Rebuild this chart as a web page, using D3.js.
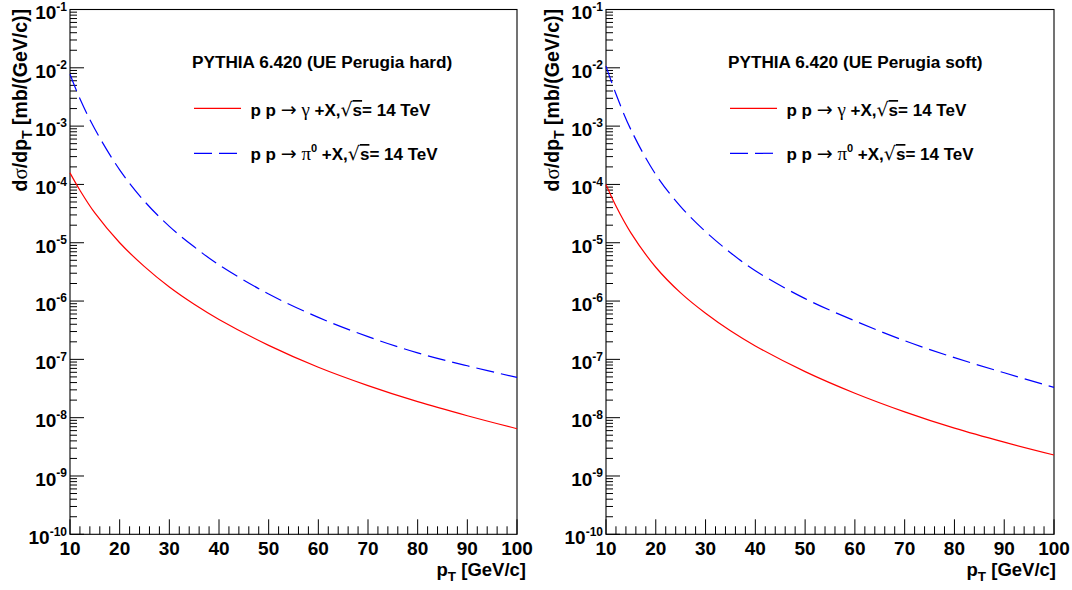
<!DOCTYPE html>
<html><head><meta charset="utf-8">
<script src="https://cdn.jsdelivr.net/npm/d3@7"></script>
<style>
html,body{margin:0;padding:0;background:#fff;}
svg{display:block;font-family:"Liberation Sans",Arial,sans-serif;}
</style></head>
<body>
<svg id="c" width="1072" height="590"></svg>
<script>
// ---- data ----
const pT = [10, 12, 15, 20, 25, 30, 35, 40, 50, 60, 70, 80, 90, 100];
const hardGamma = [1.58e-4, 7.94e-5, 3.24e-5, 1.00e-5, 3.89e-6, 1.74e-6, 8.81e-7, 4.84e-7, 1.74e-7, 7.33e-8, 3.55e-8, 1.88e-8, 1.08e-8, 6.46e-9];
const hardPi0   = [7.76e-3, 2.95e-3, 8.91e-4, 1.78e-4, 5.13e-5, 1.91e-5, 8.51e-6, 4.17e-6, 1.32e-6, 5.25e-7, 2.45e-7, 1.29e-7, 7.76e-8, 4.90e-8];
const softGamma = [1.00e-4, 4.27e-5, 1.48e-5, 3.80e-6, 1.38e-6, 6.17e-7, 3.09e-7, 1.70e-7, 6.17e-8, 2.63e-8, 1.26e-8, 6.61e-9, 3.80e-9, 2.29e-9];
const softPi0   = [1.07e-2, 3.55e-3, 8.71e-4, 1.48e-4, 4.17e-5, 1.55e-5, 6.76e-6, 3.31e-6, 1.10e-6, 4.57e-7, 2.09e-7, 1.07e-7, 5.89e-8, 3.31e-8];
const xTickLabels = [10, 20, 30, 40, 50, 60, 70, 80, 90, 100];
const yDecades = [-1, -2, -3, -4, -5, -6, -7, -8, -9, -10];
const panelTitles = ["PYTHIA 6.420 (UE Perugia hard)", "PYTHIA 6.420 (UE Perugia soft)"];

const svg = d3.select("#c");
const yTop = 9.5, yBottom = 534.3;
const panels = [
  {x0: 70, x1: 517, ytOff: 43, xtEnd: 526, title: panelTitles[0], gamma: hardGamma, pi0: hardPi0},
  {x0: 606, x1: 1054, ytOff: 47, xtEnd: 1056, title: panelTitles[1], gamma: softGamma, pi0: softPi0}
];
const SYM = "'DejaVu Sans', sans-serif";
const GREEK = "'Liberation Serif', 'DejaVu Serif', serif";

panels.forEach(p => {
  const g = svg.append("g");
  const x = d3.scaleLinear().domain([10, 100]).range([p.x0, p.x1]);
  const y = d3.scaleLog().domain([1e-10, 1e-1]).range([yBottom, yTop]);

  // frame
  g.append("rect").attr("x", p.x0).attr("y", yTop).attr("width", p.x1 - p.x0).attr("height", yBottom - yTop)
    .attr("fill", "none").attr("stroke", "#000").attr("stroke-width", 1.1);

  // x ticks
  for (let v = 10; v <= 100; v += 2) {
    const major = v % 10 === 0;
    g.append("line").attr("x1", x(v)).attr("x2", x(v)).attr("y1", yBottom).attr("y2", yBottom - (major ? 15 : 8))
      .attr("stroke", "#000").attr("stroke-width", 1);
  }
  xTickLabels.forEach(v => {
    g.append("text").attr("x", x(v)).attr("y", 555).attr("text-anchor", "middle")
      .attr("font-size", 19).attr("font-weight", "bold").text(v);
  });

  // y ticks
  for (let e = -10; e < -1; e++) {
    for (let m = 1; m <= 9; m++) {
      const v = m * Math.pow(10, e);
      g.append("line").attr("x1", p.x0).attr("x2", p.x0 + (m === 1 ? 14 : 7)).attr("y1", y(v)).attr("y2", y(v))
        .attr("stroke", "#000").attr("stroke-width", 1);
    }
  }
  yDecades.forEach(e => {
    const t = g.append("text").attr("x", p.x0 - 3).attr("y", y(Math.pow(10, e)) + 9.8)
      .attr("text-anchor", "end").attr("font-size", 19).attr("font-weight", "bold");
    t.append("tspan").text("10");
    t.append("tspan").attr("font-size", 12).attr("dy", -8.5).text(String(e));
  });

  // axis titles
  const xt = g.append("text").attr("x", p.xtEnd).attr("y", 576).attr("text-anchor", "end")
    .attr("font-size", 18.5).attr("font-weight", "bold");
  xt.append("tspan").text("p");
  xt.append("tspan").attr("font-size", 13.5).attr("dy", 5).text("T");
  xt.append("tspan").attr("dy", -5).text(" [GeV/c]");

  const yt = g.append("text").attr("transform", `translate(${p.x0 - p.ytOff},9) rotate(-90)`)
    .attr("text-anchor", "end").attr("font-size", 19.5).attr("font-weight", "bold");
  yt.append("tspan").text("d");
  yt.append("tspan").attr("font-family", GREEK).attr("font-weight", "normal").attr("font-size", 21).text("σ");
  yt.append("tspan").text("/dp");
  yt.append("tspan").attr("font-size", 14).attr("dy", 5).text("T");
  yt.append("tspan").attr("dy", -5).text(" [mb/(GeV/c)]");

  // curves
  const line = d3.line().x((d, i) => x(pT[i])).y(d => y(d)).curve(d3.curveCatmullRom.alpha(0.5));
  g.append("path").attr("d", line(p.gamma)).attr("fill", "none").attr("stroke", "#ff0000").attr("stroke-width", 1.2);
  g.append("path").attr("d", line(p.pi0)).attr("fill", "none").attr("stroke", "#0000ff").attr("stroke-width", 1.2)
    .attr("stroke-dasharray", "18,7");

  // legend
  g.append("text").attr("x", p.x0 + 122).attr("y", 68).attr("font-size", 17.2).attr("font-weight", "bold").text(p.title);
  g.append("line").attr("x1", p.x0 + 124).attr("x2", p.x0 + 171).attr("y1", 108.3).attr("y2", 108.3)
    .attr("stroke", "#ff0000").attr("stroke-width", 1.2);
  g.append("line").attr("x1", p.x0 + 124).attr("x2", p.x0 + 171).attr("y1", 153.3).attr("y2", 153.3)
    .attr("stroke", "#0000ff").attr("stroke-width", 1.2).attr("stroke-dasharray", "18,7");

  function legendText(yb, particle, sup) {
    const t = g.append("text").attr("x", p.x0 + 180.5).attr("y", yb).attr("font-size", 17).attr("font-weight", "bold");
    t.append("tspan").text("p p ");
    t.append("tspan").attr("font-family", SYM).attr("font-weight", "normal").attr("font-size", 19).text("→");
    t.append("tspan").text(" ");
    t.append("tspan").attr("font-family", GREEK).attr("font-weight", "normal").attr("font-size", 19).text(particle);
    if (sup) t.append("tspan").attr("font-size", 11).attr("dy", -8).text(sup);
    t.append("tspan").attr("dy", sup ? 8 : 0).text(" +X,");
    t.append("tspan").attr("font-family", SYM).attr("font-weight", "normal").attr("font-size", 19).text("√");
    t.append("tspan").attr("text-decoration", "overline").text("s");
    t.append("tspan").text("= 14 TeV");
  }
  legendText(116, "γ", null);
  legendText(160, "π", "0");
});
</script>
</body></html>
